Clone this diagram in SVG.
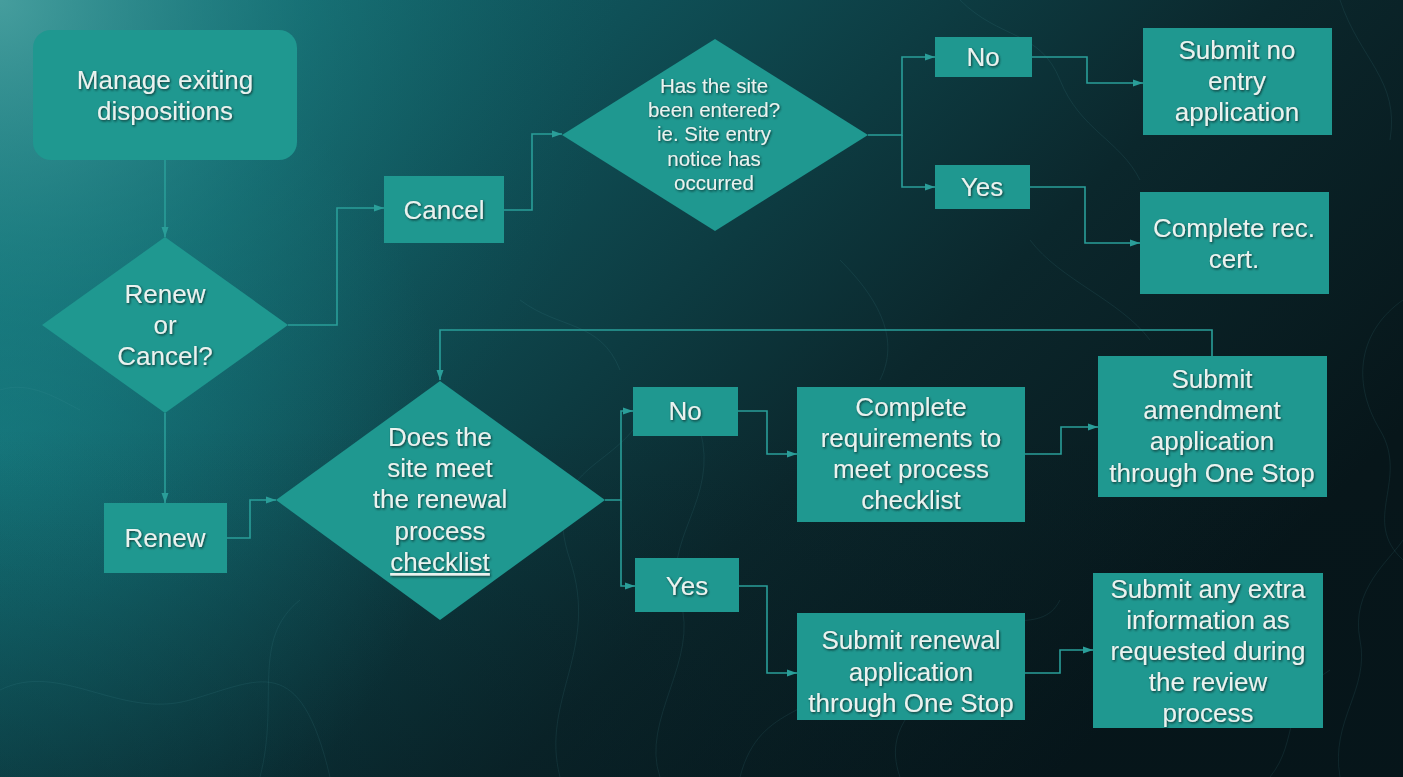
<svg xmlns="http://www.w3.org/2000/svg" width="1403" height="777" viewBox="0 0 1403 777">
  <defs>
    <linearGradient id="bgBase" x1="0" y1="0" x2="1" y2="0.55">
      <stop offset="0" stop-color="#16787d"/>
      <stop offset="0.35" stop-color="#0f5057"/>
      <stop offset="0.7" stop-color="#0b272c"/>
      <stop offset="1" stop-color="#07161a"/>
    </linearGradient>
    <radialGradient id="bgGlow" cx="0" cy="0" r="620" gradientUnits="userSpaceOnUse">
      <stop offset="0" stop-color="#4ea4a3" stop-opacity="0.85"/>
      <stop offset="0.5" stop-color="#1f8587" stop-opacity="0.35"/>
      <stop offset="1" stop-color="#0f5e64" stop-opacity="0"/>
    </radialGradient>
    <radialGradient id="bgSide" cx="0" cy="450" r="450" gradientUnits="userSpaceOnUse">
      <stop offset="0" stop-color="#17858a" stop-opacity="0.65"/>
      <stop offset="1" stop-color="#17858a" stop-opacity="0"/>
    </radialGradient>
    <linearGradient id="bgShade" x1="0" y1="0" x2="0" y2="1">
      <stop offset="0.55" stop-color="#04141a" stop-opacity="0"/>
      <stop offset="1" stop-color="#04141a" stop-opacity="0.3"/>
    </linearGradient>
    <filter id="txtShadow" x="-10%" y="-30%" width="120%" height="160%">
      <feDropShadow dx="1" dy="1.2" stdDeviation="0.9" flood-color="#082626" flood-opacity="0.85"/>
    </filter>
    <marker id="arrow" markerUnits="userSpaceOnUse" markerWidth="10" markerHeight="10" viewBox="0 0 10 10" refX="10" refY="5" orient="auto">
      <path d="M0,1.5 L10,5 L0,8.5 Z" fill="#2a9e99"/>
    </marker>
    <style>
      .node { fill: #1f9890; }
      .lbl { font-family: "Liberation Sans", Arial, sans-serif; font-size: 26px; fill: #eaf2ef; text-anchor: middle; filter: url(#txtShadow); }
      .small { font-size: 20.5px; }
      .conn { fill: none; stroke: #2a9e99; stroke-width: 1.6; marker-end: url(#arrow); }
      .topo { fill: none; stroke: #4a9ea0; stroke-width: 1; opacity: 0.13; }
    </style>
  </defs>

  <!-- backdrop -->
  <rect x="0" y="0" width="1403" height="777" fill="url(#bgBase)"/>
  <rect x="0" y="0" width="1403" height="777" fill="url(#bgSide)"/>
  <rect x="0" y="0" width="1403" height="777" fill="url(#bgGlow)"/>
  <rect x="0" y="0" width="1403" height="777" fill="url(#bgShade)"/>

  <!-- faint contour texture -->
  <g id="contours">
    <path class="topo" d="M0,690 C60,660 120,720 190,700 S300,650 330,777"/>
    <path class="topo" d="M260,777 C280,700 250,640 300,600"/>
    <path class="topo" d="M560,777 C540,700 600,650 570,560 S610,470 640,420"/>
    <path class="topo" d="M660,777 C640,720 700,660 680,600 S720,500 700,430"/>
    <path class="topo" d="M740,777 C760,700 820,720 860,660"/>
    <path class="topo" d="M900,777 C880,720 930,700 960,650 S1040,640 1060,600"/>
    <path class="topo" d="M1340,777 C1330,720 1370,690 1360,640 S1390,560 1403,540"/>
    <path class="topo" d="M1270,777 C1300,740 1280,700 1330,670"/>
    <path class="topo" d="M1403,300 C1360,330 1350,380 1380,430 S1360,520 1403,560"/>
    <path class="topo" d="M1340,0 C1360,60 1400,80 1390,140"/>
    <path class="topo" d="M960,0 C1000,40 1040,30 1060,80 S1120,140 1140,180"/>
    <path class="topo" d="M1030,240 C1060,280 1120,300 1150,340"/>
    <path class="topo" d="M840,260 C880,300 900,340 880,380"/>
    <path class="topo" d="M520,300 C560,330 600,320 620,370"/>
    <path class="topo" d="M0,390 C30,380 60,400 80,410"/>
  </g>

  <!-- connectors -->
  <g id="connectors">
    <path class="conn" d="M165,160 V237"/>
    <path class="conn" d="M288,325 H337 V208 H384"/>
    <path class="conn" d="M504,210 H532 V134 H562"/>
    <path class="conn" d="M868,135 H902 V57 H935"/>
    <path class="conn" d="M902,135 V187 H935"/>
    <path class="conn" d="M1032,57 H1087 V83 H1143"/>
    <path class="conn" d="M1030,187 H1085 V243 H1140"/>
    <path class="conn" d="M165,413 V503"/>
    <path class="conn" d="M227,538 H250 V500 H276"/>
    <path class="conn" d="M605,500 H621 V411 H633"/>
    <path class="conn" d="M621,500 V586 H635"/>
    <path class="conn" d="M738,411 H767 V454 H797"/>
    <path class="conn" d="M739,586 H767 V673 H797"/>
    <path class="conn" d="M1025,454 H1061 V427 H1098"/>
    <path class="conn" d="M1025,673 H1060 V650 H1093"/>
    <path class="conn" d="M1212,356 V330 H440 V380"/>
  </g>

  <!-- nodes -->
  <g id="manage">
    <rect class="node" x="33" y="30" width="264" height="130" rx="18"/>
    <text class="lbl" x="165" y="89">Manage exiting</text>
    <text class="lbl" x="165" y="120">dispositions</text>
  </g>

  <g id="renew-or-cancel">
    <polygon class="node" points="165,237 288,325 165,413 42,325"/>
    <text class="lbl" x="165" y="303">Renew</text>
    <text class="lbl" x="165" y="334">or</text>
    <text class="lbl" x="165" y="365">Cancel?</text>
  </g>

  <g id="cancel">
    <rect class="node" x="384" y="176" width="120" height="67"/>
    <text class="lbl" x="444" y="219">Cancel</text>
  </g>

  <g id="site-entered">
    <polygon class="node" points="715,39 868,135 715,231 562,135"/>
    <text class="lbl small" x="714" y="93">Has the site</text>
    <text class="lbl small" x="714" y="117">been entered?</text>
    <text class="lbl small" x="714" y="141">ie. Site entry</text>
    <text class="lbl small" x="714" y="166">notice has</text>
    <text class="lbl small" x="714" y="190">occurred</text>
  </g>

  <g id="entered-no">
    <rect class="node" x="935" y="37" width="97" height="40"/>
    <text class="lbl" x="983" y="66">No</text>
  </g>

  <g id="entered-yes">
    <rect class="node" x="935" y="165" width="95" height="44"/>
    <text class="lbl" x="982" y="196">Yes</text>
  </g>

  <g id="no-entry-application">
    <rect class="node" x="1143" y="28" width="189" height="107"/>
    <text class="lbl" x="1237" y="59">Submit no</text>
    <text class="lbl" x="1237" y="90">entry</text>
    <text class="lbl" x="1237" y="121">application</text>
  </g>

  <g id="rec-cert">
    <rect class="node" x="1140" y="192" width="189" height="102"/>
    <text class="lbl" x="1234" y="237">Complete rec.</text>
    <text class="lbl" x="1234" y="268">cert.</text>
  </g>

  <g id="renew">
    <rect class="node" x="104" y="503" width="123" height="70"/>
    <text class="lbl" x="165" y="547">Renew</text>
  </g>

  <g id="checklist-decision">
    <polygon class="node" points="440,381 605,500 440,620 276,500"/>
    <text class="lbl" x="440" y="446">Does the</text>
    <text class="lbl" x="440" y="477">site meet</text>
    <text class="lbl" x="440" y="508">the renewal</text>
    <text class="lbl" x="440" y="540">process</text>
    <text class="lbl" x="440" y="571" text-decoration="underline">checklist</text>
  </g>

  <g id="checklist-no">
    <rect class="node" x="633" y="387" width="105" height="49"/>
    <text class="lbl" x="685" y="420">No</text>
  </g>

  <g id="checklist-yes">
    <rect class="node" x="635" y="558" width="104" height="54"/>
    <text class="lbl" x="687" y="595">Yes</text>
  </g>

  <g id="complete-requirements">
    <rect class="node" x="797" y="387" width="228" height="135"/>
    <text class="lbl" x="911" y="416">Complete</text>
    <text class="lbl" x="911" y="447">requirements to</text>
    <text class="lbl" x="911" y="478">meet process</text>
    <text class="lbl" x="911" y="509">checklist</text>
  </g>

  <g id="renewal-application">
    <rect class="node" x="797" y="613" width="228" height="107"/>
    <text class="lbl" x="911" y="649">Submit renewal</text>
    <text class="lbl" x="911" y="681">application</text>
    <text class="lbl" x="911" y="712">through One Stop</text>
  </g>

  <g id="amendment-application">
    <rect class="node" x="1098" y="356" width="229" height="141"/>
    <text class="lbl" x="1212" y="388">Submit</text>
    <text class="lbl" x="1212" y="419">amendment</text>
    <text class="lbl" x="1212" y="450">application</text>
    <text class="lbl" x="1212" y="482">through One Stop</text>
  </g>

  <g id="extra-information">
    <rect class="node" x="1093" y="573" width="230" height="155"/>
    <text class="lbl" x="1208" y="598">Submit any extra</text>
    <text class="lbl" x="1208" y="629">information as</text>
    <text class="lbl" x="1208" y="660">requested during</text>
    <text class="lbl" x="1208" y="691">the review</text>
    <text class="lbl" x="1208" y="722">process</text>
  </g>
</svg>
